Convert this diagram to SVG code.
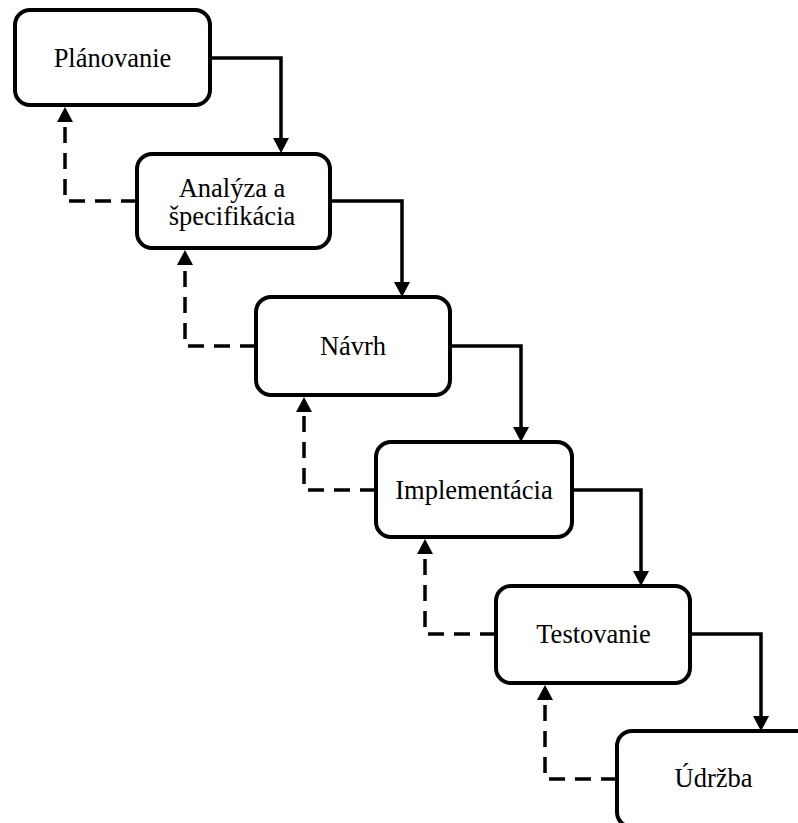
<svg xmlns="http://www.w3.org/2000/svg" width="798" height="823" viewBox="0 0 798 823">
  <style>
    .box { fill: #ffffff; stroke: #000000; stroke-width: 4; }
    .label { font-family: "Liberation Serif", "Times New Roman", serif; font-size: 26.5px; fill: #000000; text-anchor: middle; }
    .flow { fill: none; stroke: #000000; stroke-width: 3.5; }
    .back { fill: none; stroke: #000000; stroke-width: 3.5; stroke-dasharray: 16 10; }
  </style>
  <defs>
    <marker id="head" markerUnits="userSpaceOnUse" markerWidth="16" markerHeight="16" refX="0" refY="8" orient="auto" overflow="visible">
      <path d="M0,0 L15,8 L0,16 Z" fill="#000000"/>
    </marker>
  </defs>
  <rect width="798" height="823" fill="#ffffff"/>

  <!-- connectors: solid forward flow and dashed feedback -->
  <g id="connectors">
    <path class="flow" d="M210,58 H281 V138" marker-end="url(#head)"/>
    <path class="flow" d="M330,201 H402 V282" marker-end="url(#head)"/>
    <path class="flow" d="M450,346 H521 V427" marker-end="url(#head)"/>
    <path class="flow" d="M572,490 H641 V571" marker-end="url(#head)"/>
    <path class="flow" d="M690,634 H761 V716" marker-end="url(#head)"/>

    <path class="back" d="M137,201 H65 V122" marker-end="url(#head)"/>
    <path class="back" d="M256,346 H185 V265" marker-end="url(#head)"/>
    <path class="back" d="M376,490 H304 V412" marker-end="url(#head)"/>
    <path class="back" d="M496,634 H425 V554" marker-end="url(#head)"/>
    <path class="back" d="M617,779 H545 V700" marker-end="url(#head)"/>
  </g>

  <g id="planovanie">
    <rect class="box" x="15" y="10" width="195" height="95" rx="15"/>
    <text class="label" x="112.5" y="67">Plánovanie</text>
  </g>
  <g id="analyza">
    <rect class="box" x="137" y="154" width="193" height="94" rx="15"/>
    <text class="label" x="232" y="197">Analýza a</text>
    <text class="label" x="232" y="225">špecifikácia</text>
  </g>
  <g id="navrh">
    <rect class="box" x="256" y="297" width="194" height="98" rx="15"/>
    <text class="label" x="353" y="355">Návrh</text>
  </g>
  <g id="implementacia">
    <rect class="box" x="376" y="442" width="196" height="95" rx="15"/>
    <text class="label" x="474" y="499">Implementácia</text>
  </g>
  <g id="testovanie">
    <rect class="box" x="496" y="586" width="194" height="97" rx="15"/>
    <text class="label" x="593.5" y="643">Testovanie</text>
  </g>
  <g id="udrzba">
    <rect class="box" x="617" y="731" width="195" height="96" rx="15"/>
    <text class="label" x="713.5" y="787">Údržba</text>
  </g>
</svg>
